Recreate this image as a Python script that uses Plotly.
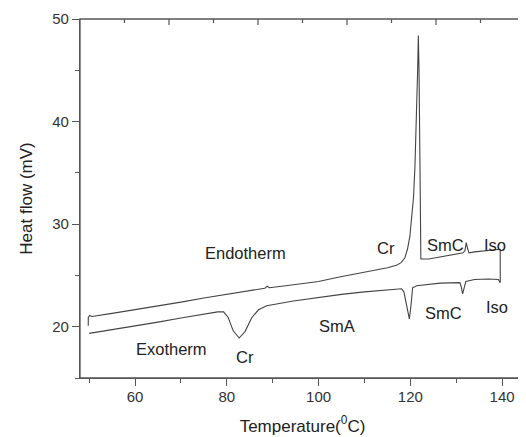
import plotly.graph_objects as go

# Heating (endotherm) trace
heat_T = [49.8, 49.8, 50.1, 50.6, 55, 60, 65, 70, 75, 80, 85, 88.3, 88.8, 89.3, 92, 96, 100,
          104, 108, 112, 115, 117, 118, 118.8, 119.4, 119.9, 120.3, 120.7, 121.0, 121.2,
          121.3, 121.45, 121.6, 121.75, 121.9, 122.1, 122.3, 124, 128, 131.5, 131.9, 132.2,
          132.5, 132.8, 134, 137, 139.6, 139.6]
heat_HF = [20.1, 20.9, 21.1, 21.0, 21.3, 21.65, 22.0, 22.4, 22.8, 23.15, 23.5, 23.75, 23.95,
           23.8, 23.95, 24.15, 24.4, 24.8, 25.15, 25.5, 25.75, 26.0, 26.25, 26.7, 27.6, 28.8,
           30.5, 32.6, 35.5, 38.5, 40.0, 41.0, 45.0, 48.4, 45.0, 36.0, 26.6, 26.6, 26.9, 27.2,
           27.4, 28.2, 27.6, 27.2, 27.3, 27.45, 27.55, 24.3]

# Cooling (exotherm) trace
cool_T = [50.0, 55, 60, 65, 70, 75, 78, 79.3, 80.3, 81.4, 82.7, 84.0, 85.4, 86.9, 88.7, 94.5,
          100, 105, 110, 115, 118.1, 118.6, 119.2, 119.8, 120.2, 120.5, 121.4, 126.5, 130.8,
          131.1, 131.4, 131.7, 132.1, 134, 137, 139.2, 139.6]
cool_HF = [19.35, 19.7, 20.05, 20.45, 20.85, 21.2, 21.45, 21.45, 20.9, 19.6, 18.9, 19.55, 20.85,
           21.65, 22.05, 22.5, 22.85, 23.15, 23.4, 23.6, 23.7, 23.4, 22.0, 20.75, 22.3, 23.8,
           24.0, 24.25, 24.3, 23.9, 23.2, 23.8, 24.4, 24.6, 24.65, 24.6, 24.3]

# Text labels
label_text = ["Endotherm", "Exotherm", "Cr", "SmA", "Cr", "SmC", "Iso", "SmC", "Iso"]
label_T = [84.0, 68.0, 84.0, 104.0, 114.7, 127.6, 138.5, 127.2, 138.8]
label_HF = [27.16, 17.83, 17.0, 20.1, 27.64, 27.97, 27.97, 21.3, 21.95]

FONT = "Liberation Sans, Arial, sans-serif"
LINE = "#444444"
AX = "#555555"
TXT = "#222222"

fig = go.Figure()
fig.add_trace(go.Scatter(x=heat_T, y=heat_HF, mode="lines",
                         line=dict(color=LINE, width=1.1), showlegend=False))
fig.add_trace(go.Scatter(x=cool_T, y=cool_HF, mode="lines",
                         line=dict(color=LINE, width=1.1), showlegend=False))

for t, xv, yv in zip(label_text, label_T, label_HF):
    fig.add_annotation(x=xv, y=yv, text=t, showarrow=False,
                       font=dict(family=FONT, size=16.5, color=TXT),
                       xanchor="center", yanchor="middle")

# Frame box around the plot area (paper coordinates)
fig.add_shape(type="rect", xref="paper", yref="paper", x0=0, x1=1, y0=0, y1=1,
              line=dict(color=AX, width=1.3), layer="above")

# Inward frame ticks on top and right (evenly divided edges, alternating long / short)
n_div = 10
for i in range(1, n_div):
    frac = i / n_div
    length = 6 if i % 2 == 0 else 4
    fig.add_shape(type="line", xref="paper", yref="paper", ysizemode="pixel", yanchor=1,
                  x0=frac, x1=frac, y0=0, y1=-length, line=dict(color=AX, width=1.2))
for i in range(1, n_div):
    frac = (i + 0.25) / n_div
    length = 6 if i % 2 == 0 else 4
    fig.add_shape(type="line", xref="paper", yref="paper", xsizemode="pixel", xanchor=1,
                  x0=0, x1=-length, y0=frac, y1=frac, line=dict(color=AX, width=1.2))

# the page body has an 8px margin, so the figure is sized to fill the rest of the window
fig.update_layout(
    width=518, height=429,
    margin=dict(l=72, r=1, t=11, b=59, autoexpand=False),
    paper_bgcolor="white", plot_bgcolor="white",
    font=dict(family=FONT, color=TXT, size=15),
    xaxis=dict(range=[48, 145], tick0=60, dtick=20, ticks="outside", ticklen=7,
               tickwidth=1.2, tickcolor=AX, showline=True, linecolor=AX, linewidth=1.3,
               showgrid=False, zeroline=False, automargin=False, ticklabelstandoff=-2,
               minor=dict(dtick=10, tick0=50, ticks="outside", ticklen=4, tickcolor=AX),
               tickfont=dict(size=15, color="#333333"),
               title=dict(text="Temperature(<sup>0</sup>C)", font=dict(size=17, color=TXT))),
    yaxis=dict(range=[15, 50], tick0=20, dtick=10, ticks="outside", ticklen=7,
               tickwidth=1.2, tickcolor=AX, showline=True, linecolor=AX, linewidth=1.3,
               showgrid=False, zeroline=False, automargin=False,
               minor=dict(dtick=5, tick0=15, ticks="outside", ticklen=4, tickcolor=AX),
               tickfont=dict(size=15, color="#333333"),
               title=dict(text="Heat flow (mV)", font=dict(size=17, color=TXT))),
)

fig.write_html("out.html")
